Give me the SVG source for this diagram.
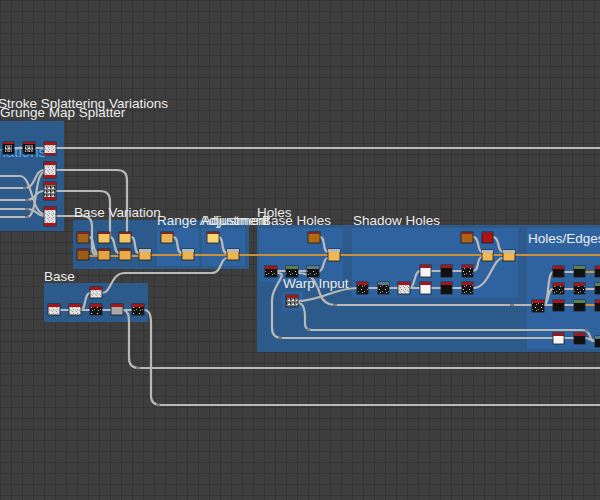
<svg xmlns="http://www.w3.org/2000/svg" width="600" height="500" viewBox="0 0 600 500">
<defs>
<pattern id="grid" width="11" height="11" patternUnits="userSpaceOnUse">
<rect width="11" height="11" fill="#3e3e3e"/>
<path d="M0 0.5H11M0.5 0V11" stroke="#353535" stroke-width="1"/>
</pattern>
<pattern id="nb" width="6" height="6" patternUnits="userSpaceOnUse">
<rect width="6" height="6" fill="#141414"/>
<rect x="1" y="1" width="1" height="1" fill="#ddd"/>
<rect x="4" y="3" width="1" height="1" fill="#999"/>
<rect x="2" y="4" width="1" height="1" fill="#bbb"/>
</pattern>
<pattern id="nw" width="4" height="4" patternUnits="userSpaceOnUse">
<rect width="4" height="4" fill="#e2e2e2"/>
<rect x="1" y="1" width="1" height="1" fill="#8a8a8a"/>
<rect x="3" y="2" width="1" height="1" fill="#aaa"/>
<rect x="0" y="3" width="1" height="1" fill="#999"/>
</pattern>
<pattern id="nm" width="4" height="4" patternUnits="userSpaceOnUse">
<rect width="4" height="4" fill="#777"/>
<rect x="0" y="0" width="2" height="1" fill="#eee"/>
<rect x="2" y="2" width="1" height="2" fill="#222"/>
<rect x="1" y="3" width="1" height="1" fill="#ccc"/>
</pattern>
<style>
.fr{fill:#2c5a8a}
.fi{fill:#2e63a0}
.w{fill:none;stroke:#b9b9b9;stroke-width:2.2;stroke-linecap:round}
.o{fill:none;stroke:#c9923a;stroke-width:2;stroke-linecap:round}
.t{font-family:"Liberation Sans",Arial,sans-serif;font-size:13.5px;fill:#ececec}
.hr{fill:#a3171b}
.hg{fill:#5c8150}
.hb{fill:#5d7a82}
.hy{fill:#b9b9b9}
.hm{fill:#7d2424}
.bd{stroke:#1a1a1a;stroke-width:0.8}
.dot{fill:#888;stroke:#444;stroke-width:0.5}
</style>
</defs>
<rect width="600" height="500" fill="url(#grid)"/>

<g id="frames">
<rect class="fr" x="0" y="121" width="64" height="110"/>
<rect class="fr" x="73" y="220" width="176" height="49"/>
<rect class="fi" x="157" y="228" width="42" height="38"/>
<rect class="fi" x="202" y="228" width="43" height="38"/>
<rect class="fr" x="44" y="283" width="104" height="39"/>
<rect class="fr" x="257" y="225" width="343" height="127"/>
<rect class="fi" x="259" y="228" width="84" height="54"/>
<rect class="fi" x="352" y="228" width="166" height="70"/>
<rect class="fi" x="282" y="292" width="21" height="19"/>
<rect class="fi" x="527" y="228" width="73" height="121"/>
</g>

<text class="t" x="46" y="157" text-anchor="end" style="font-size:15px;fill:#5aa8f0">Variations</text>

<g id="connectors">
<path class="w" d="M56,148H600"/>
<path class="w" d="M14,148H23M35,148H44"/>
<path class="w" d="M0,188H25C36,188 34,170 44,170"/>
<path class="w" d="M0,200H27C37,200 34,191 44,191"/>
<path class="w" d="M0,209H27C37,209 36,216 44,216"/>
<path class="w" d="M0,217H27C38,217 34,174 44,172"/>
<path class="w" d="M0,176H20C32,176 32,214 44,214"/>
<path class="w" d="M56,170H117Q127,170 127,180V238"/>
<path class="w" d="M56,191H100Q110,191 110,201V238"/>
<path class="w" d="M56,216H82Q92,216 92,226V248Q92,255 98,255"/>
<path class="w" d="M89,237C95,237 92,253 98,253"/>
<path class="w" d="M110,237C116,237 113,253 119,253"/>
<path class="w" d="M131,237C137,237 133,253 139,253"/>
<path class="w" d="M173,237C180,237 175,253 182,253"/>
<path class="w" d="M218,237C225,237 220,253 227,253"/>
<path class="o" d="M89,256H98M110,256H119M131,256H139M151,255H182M193,255H227"/>
<path class="o" d="M239,255H600"/>
<path class="w" d="M60,310H69M81,310H90M102,310H111M123,310H132"/>
<path class="w" d="M81,310C86,310 84,293 90,293"/>
<path class="w" d="M102,293C112,293 110,273 125,273H212C222,273 220,258 227,258"/>
<path class="w" d="M123,310C128,310 129,315 129,322V358Q129,368 139,368H600"/>
<path class="w" d="M144,310C150,310 151,316 151,324V396Q151,405 161,405H600"/>
<path class="w" d="M277,271H286M298,271H307"/>
<path class="w" d="M319,271C325,271 322,258 328,258"/>
<path class="w" d="M320,237C326,237 322,252 328,252"/>
<path class="w" d="M277,273C290,273 272,285 272,300V328Q272,338 282,338H553"/>
<path class="w" d="M298,273C312,273 316,282 320,294Q324,305 335,305H532"/>
<path class="w" d="M298,301C320,301 335,288 357,288"/>
<path class="w" d="M298,303C303,303 305,310 305,318V324Q305,330 312,330H582Q588,330 590,336Q591,341 595,341"/>
<path class="w" d="M368,288H378M389,288H398M410,288H420M431,288H441M452,288H462M431,271H441M452,271H462"/>
<path class="w" d="M410,288C415,288 414,271 420,271"/>
<path class="w" d="M473,271C480,271 476,257 482,257"/>
<path class="w" d="M473,288C490,288 492,258 503,258"/>
<path class="w" d="M473,237C480,237 477,252 482,252"/>
<path class="w" d="M493,237C500,237 497,252 503,252"/>
<path class="w" d="M544,305H553M544,305C549,305 547,289 553,289M544,305C549,305 547,272 553,272"/>
<path class="w" d="M564,272H574M564,289H574M564,305H574M585,289H595"/>
<path class="o" d="M585,272H595M585,305H595"/>
<path class="w" d="M564,338H574M585,338C590,338 590,341 595,341"/>
<circle class="dot" cx="25" cy="188" r="1.5"/>
<circle class="dot" cx="27" cy="200" r="1.5"/>
<circle class="dot" cx="27" cy="209" r="1.5"/>
<circle class="dot" cx="27" cy="217" r="1.5"/>
<circle class="dot" cx="335" cy="305" r="1.5"/>
<circle class="dot" cx="512" cy="305" r="1.5"/>
<circle class="dot" cx="308" cy="330" r="1.5"/>
<circle class="dot" cx="280" cy="338" r="1.5"/>
<circle class="dot" cx="138" cy="368" r="1.5"/>
<circle class="dot" cx="158" cy="405" r="1.5"/>
<circle class="dot" cx="587" cy="330" r="1.5"/>
</g>

<g id="n-l1"><rect x="3" y="142" width="11" height="12" fill="#111" class="bd"/><rect x="5" y="145" width="7" height="7" fill="url(#nm)"/><rect class="hr" x="3" y="142" width="11" height="2"/></g>
<g id="n-l2"><rect x="23" y="142" width="12" height="12" fill="#111" class="bd"/><rect x="25" y="145" width="8" height="7" fill="url(#nm)"/><rect class="hr" x="23" y="142" width="12" height="2"/></g>
<g id="n-l3"><rect x="44" y="142" width="12" height="13" fill="url(#nw)" class="bd"/><rect class="hr" x="44" y="142" width="12" height="3"/><rect class="hr" x="44" y="153" width="12" height="2"/></g>
<g id="n-l4"><rect x="44" y="162" width="12" height="16" fill="url(#nw)" class="bd"/><rect class="hr" x="44" y="162" width="12" height="3"/><rect class="hr" x="44" y="175" width="12" height="3"/></g>
<g id="n-l5"><rect x="44" y="182" width="12" height="18" fill="url(#nm)" class="bd"/><rect class="hr" x="44" y="182" width="12" height="3"/><rect class="hr" x="44" y="197" width="12" height="3"/></g>
<g id="n-l6"><rect x="44" y="207" width="12" height="19" fill="url(#nw)" class="bd"/><rect class="hr" x="44" y="207" width="12" height="3"/><rect class="hr" x="44" y="223" width="12" height="3"/></g>

<g id="n-bv1"><rect x="77" y="232" width="12" height="11" fill="#a5621c" class="bd"/><rect class="hm" x="77" y="232" width="12" height="2"/></g>
<g id="n-bv2"><rect x="77" y="249" width="12" height="11" fill="#9c5c18" class="bd"/><rect class="hm" x="77" y="249" width="12" height="2"/></g>
<g id="n-bv3"><rect x="98" y="232" width="12" height="11" fill="#f2c462" class="bd"/><rect class="hm" x="98" y="232" width="12" height="2"/></g>
<g id="n-bv4"><rect x="119" y="232" width="12" height="11" fill="#f2c462" class="bd"/><rect class="hm" x="119" y="232" width="12" height="2"/></g>
<g id="n-bv5"><rect x="98" y="249" width="12" height="11" fill="#e3a544" class="bd"/><rect class="hm" x="98" y="249" width="12" height="2"/></g>
<g id="n-bv6"><rect x="119" y="249" width="12" height="11" fill="#e9ac48" class="bd"/><rect class="hm" x="119" y="249" width="12" height="2"/></g>
<g id="n-bv7"><rect x="139" y="249" width="12" height="11" fill="#eab452" class="bd"/><rect class="hy" x="139" y="249" width="12" height="3"/></g>
<g id="n-r1"><rect x="161" y="232" width="12" height="11" fill="#eab452" class="bd"/><rect class="hm" x="161" y="232" width="12" height="2"/></g>
<g id="n-r2"><rect x="182" y="249" width="12" height="11" fill="#eab452" class="bd"/><rect class="hy" x="182" y="249" width="12" height="3"/></g>
<g id="n-a1"><rect x="207" y="232" width="12" height="11" fill="#f6d472" class="bd"/><rect class="hm" x="207" y="232" width="12" height="2"/></g>
<g id="n-a2"><rect x="227" y="249" width="12" height="11" fill="#eab452" class="bd"/><rect class="hy" x="227" y="249" width="12" height="3"/></g>

<g id="n-b1"><rect x="48" y="304" width="12" height="11" fill="url(#nw)" class="bd"/><rect class="hr" x="48" y="304" width="12" height="3"/></g>
<g id="n-b2"><rect x="69" y="304" width="12" height="11" fill="url(#nw)" class="bd"/><rect class="hr" x="69" y="304" width="12" height="3"/></g>
<g id="n-b3"><rect x="90" y="304" width="12" height="11" fill="url(#nb)" class="bd"/><rect class="hr" x="90" y="304" width="12" height="3"/></g>
<g id="n-b4"><rect x="111" y="304" width="12" height="11" fill="#a9a9a9" class="bd"/><rect class="hr" x="111" y="304" width="12" height="3"/></g>
<g id="n-b5"><rect x="132" y="304" width="12" height="11" fill="url(#nb)" class="bd"/><rect class="hr" x="132" y="304" width="12" height="3"/></g>
<g id="n-b6"><rect x="90" y="287" width="12" height="11" fill="url(#nw)" class="bd"/><rect class="hr" x="90" y="287" width="12" height="3"/></g>

<g id="n-bh1"><rect x="265" y="266" width="12" height="11" fill="url(#nb)" class="bd"/><rect class="hr" x="265" y="266" width="12" height="3"/></g>
<g id="n-bh2"><rect x="286" y="266" width="12" height="11" fill="url(#nb)" class="bd"/><rect class="hg" x="286" y="266" width="12" height="3"/></g>
<g id="n-bh3"><rect x="307" y="266" width="12" height="11" fill="url(#nb)" class="bd"/><rect class="hb" x="307" y="266" width="12" height="3"/></g>
<g id="n-bh4"><rect x="308" y="232" width="12" height="11" fill="#b06a12" class="bd"/><rect class="hm" x="308" y="232" width="12" height="2"/></g>
<g id="n-bh5"><rect x="328" y="249" width="12" height="12" fill="#f0b852" class="bd"/><rect class="hy" x="328" y="249" width="12" height="3"/></g>
<g id="n-w1"><rect x="286" y="295" width="12" height="12" fill="url(#nm)" class="bd"/><rect class="hr" x="286" y="295" width="12" height="3"/></g>

<g id="n-s1"><rect x="357" y="282" width="11" height="12" fill="url(#nb)" class="bd"/><rect class="hr" x="357" y="282" width="11" height="3"/></g>
<g id="n-s2"><rect x="378" y="282" width="11" height="12" fill="url(#nb)" class="bd"/><rect class="hb" x="378" y="282" width="11" height="3"/></g>
<g id="n-s3"><rect x="398" y="282" width="12" height="12" fill="url(#nw)" class="bd"/><rect class="hr" x="398" y="282" width="12" height="3"/></g>
<g id="n-s4"><rect x="420" y="282" width="11" height="12" fill="#f4f4f4" class="bd"/><rect class="hr" x="420" y="282" width="11" height="3"/></g>
<g id="n-s5"><rect x="441" y="282" width="11" height="12" fill="#111" class="bd"/><rect class="hr" x="441" y="282" width="11" height="3"/></g>
<g id="n-s6"><rect x="462" y="282" width="11" height="12" fill="url(#nb)" class="bd"/><rect class="hr" x="462" y="282" width="11" height="3"/></g>
<g id="n-s7"><rect x="420" y="265" width="11" height="12" fill="#f4f4f4" class="bd"/><rect class="hr" x="420" y="265" width="11" height="3"/></g>
<g id="n-s8"><rect x="441" y="265" width="11" height="12" fill="#111" class="bd"/><rect class="hr" x="441" y="265" width="11" height="3"/></g>
<g id="n-s9"><rect x="462" y="265" width="11" height="12" fill="url(#nb)" class="bd"/><rect class="hr" x="462" y="265" width="11" height="3"/></g>
<g id="n-s10"><rect x="461" y="232" width="12" height="11" fill="#b06012" class="bd"/><rect class="hm" x="461" y="232" width="12" height="2"/></g>
<g id="n-s11"><rect x="482" y="232" width="11" height="11" fill="#b01212" class="bd"/><rect class="hm" x="482" y="232" width="11" height="2"/></g>
<g id="n-s12"><rect x="482" y="250" width="11" height="11" fill="#f0b852" class="bd"/><rect class="hy" x="482" y="250" width="11" height="3"/></g>
<g id="n-s13"><rect x="503" y="250" width="12" height="11" fill="#f0b852" class="bd"/><rect class="hy" x="503" y="250" width="12" height="3"/></g>

<g id="n-he0"><rect x="532" y="300" width="12" height="12" fill="url(#nb)" class="bd"/><rect class="hr" x="532" y="300" width="12" height="3"/></g>
<g id="n-he1"><rect x="553" y="266" width="11" height="11" fill="#111" class="bd"/><rect class="hr" x="553" y="266" width="11" height="3"/></g>
<g id="n-he2"><rect x="574" y="266" width="11" height="11" fill="#111" class="bd"/><rect class="hg" x="574" y="266" width="11" height="3"/></g>
<g id="n-he3"><rect x="595" y="266" width="11" height="11" fill="#111" class="bd"/><rect class="hr" x="595" y="266" width="11" height="3"/></g>
<g id="n-he4"><rect x="553" y="283" width="11" height="11" fill="url(#nb)" class="bd"/><rect class="hr" x="553" y="283" width="11" height="3"/></g>
<g id="n-he5"><rect x="574" y="283" width="11" height="11" fill="url(#nb)" class="bd"/><rect class="hr" x="574" y="283" width="11" height="3"/></g>
<g id="n-he6"><rect x="595" y="283" width="11" height="11" fill="#111" class="bd"/><rect class="hg" x="595" y="283" width="11" height="3"/></g>
<g id="n-he7"><rect x="553" y="300" width="11" height="11" fill="#111" class="bd"/><rect class="hr" x="553" y="300" width="11" height="3"/></g>
<g id="n-he8"><rect x="574" y="300" width="11" height="11" fill="#111" class="bd"/><rect class="hg" x="574" y="300" width="11" height="3"/></g>
<g id="n-he9"><rect x="595" y="300" width="11" height="11" fill="#111" class="bd"/><rect class="hr" x="595" y="300" width="11" height="3"/></g>
<g id="n-he10"><rect x="553" y="333" width="11" height="11" fill="#f6f6f6" class="bd"/><rect class="hr" x="553" y="333" width="11" height="3"/></g>
<g id="n-he11"><rect x="574" y="333" width="11" height="11" fill="#111" class="bd"/><rect class="hr" x="574" y="333" width="11" height="3"/></g>
<g id="n-he12"><rect x="595" y="336" width="11" height="11" fill="#111" class="bd"/><rect class="hb" x="595" y="336" width="11" height="3"/></g>

<g id="labels">
<text class="t" x="-2" y="108">Stroke Splattering Variations</text>
<text class="t" x="0" y="117">Grunge Map Splatter</text>
<text class="t" x="74" y="217">Base Variation</text>
<text class="t" x="157" y="225">Range Adjustment</text>
<text class="t" x="202" y="225">Adjustment</text>
<text class="t" x="257" y="217">Holes</text>
<text class="t" x="262" y="225">Base Holes</text>
<text class="t" x="353" y="225">Shadow Holes</text>
<text class="t" x="528" y="243">Holes/Edges</text>
<text class="t" x="44" y="281">Base</text>
<text class="t" x="283" y="288">Warp Input</text>
</g>
</svg>
